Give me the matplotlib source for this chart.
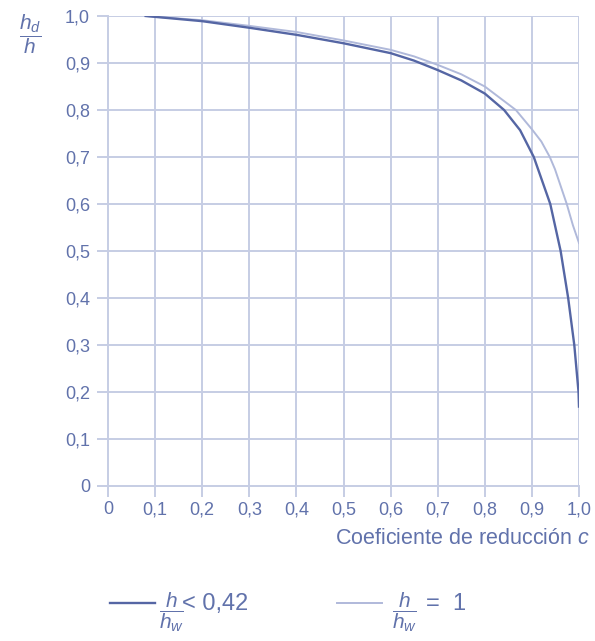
import matplotlib
matplotlib.use("Agg")
import matplotlib.pyplot as plt

plt.rcParams['font.family'] = ['Liberation Sans', 'DejaVu Sans']
plt.rcParams['mathtext.fontset'] = 'custom'
plt.rcParams['mathtext.rm'] = 'Liberation Sans'
plt.rcParams['mathtext.it'] = 'Liberation Sans:italic'

# Data
c_low = [0.08, 0.2, 0.3, 0.4, 0.5, 0.6, 0.65, 0.7, 0.75, 0.8, 0.841, 0.875, 0.904,
         0.939, 0.961, 0.977, 0.99, 0.999, 1.0]
v_low = [1.0, 0.989, 0.975, 0.96, 0.942, 0.921, 0.905, 0.885, 0.863, 0.835, 0.80,
         0.757, 0.70, 0.60, 0.50, 0.40, 0.30, 0.20, 0.169]
c_one = [0.08, 0.2, 0.3, 0.4, 0.5, 0.6, 0.65, 0.7, 0.75, 0.8, 0.866, 0.9, 0.92,
         0.938, 0.949, 0.974, 0.987, 1.0]
v_one = [1.0, 0.991, 0.979, 0.966, 0.948, 0.928, 0.914, 0.896, 0.876, 0.850, 0.80,
         0.759, 0.733, 0.70, 0.674, 0.60, 0.555, 0.517]

xticks = [0, 0.1, 0.2, 0.3, 0.4, 0.5, 0.6, 0.7, 0.8, 0.9, 1.0]
xticklabels = ['0', '0,1', '0,2', '0,3', '0,4', '0,5', '0,6', '0,7', '0,8', '0,9', '1,0']
yticks = [0, 0.1, 0.2, 0.3, 0.4, 0.5, 0.6, 0.7, 0.8, 0.9, 1.0]
yticklabels = ['0', '0,1', '0,2', '0,3', '0,4', '0,5', '0,6', '0,7', '0,8', '0,9', '1,0']

TXT = '#6172ab'
GRID = '#c6cde4'
DARK = '#5566a4'
LIGHT = '#b0b9da'

fig = plt.figure(figsize=(5.95, 6.41), dpi=100)
ax = fig.add_axes([108/595, 1-486/641, 471/595, 470/641])

ax.set_xlim(0, 1.0)
ax.set_ylim(0, 1.0)
for x in xticks[1:]:
    ax.axvline(x, color=GRID, lw=1.4, zorder=1)
for y in yticks[1:]:
    ax.axhline(y, color=GRID, lw=1.4, zorder=1)

ax.plot(c_one, v_one, color=LIGHT, lw=1.4, zorder=3)
ax.plot(c_low, v_low, color=DARK, lw=1.7, zorder=4)

for s in ['top', 'right']:
    ax.spines[s].set_visible(False)
for s in ['left', 'bottom']:
    ax.spines[s].set_color(GRID)
    ax.spines[s].set_linewidth(1.4)

ax.set_xticks(xticks)
ax.set_xticklabels(xticklabels)
ax.set_yticks(yticks)
ax.set_yticklabels(yticklabels)
ax.tick_params(axis='both', colors=GRID, length=8, width=1.4, labelcolor=TXT,
               labelsize=13)
ax.tick_params(axis='x', pad=3)
ax.tick_params(axis='y', pad=5)

fig.text(590/595, 1-538/641, 'Coeficiente de reducción $c$', ha='right', va='center',
         color=TXT, fontsize=15.5)
fig.text(30/595, 1-34/641, r'$\dfrac{h_d}{h}$', ha='center', va='center',
         color=TXT, fontsize=15)

# legend
ly = 1 - 612/641
fig.lines.append(plt.Line2D([110/595, 155/595], [1-603/641]*2, color=DARK, lw=1.7,
                            transform=fig.transFigure))
fig.text(171/595, ly, r'$\dfrac{h}{h_w}$', ha='center', va='center',
         color=TXT, fontsize=15)
fig.text(182/595, 1-604/641, '< 0,42', ha='left', va='center',
         color=TXT, fontsize=17)
fig.lines.append(plt.Line2D([337/595, 382/595], [1-603/641]*2, color=LIGHT, lw=1.4,
                            transform=fig.transFigure))
fig.text(404/595, ly, r'$\dfrac{h}{h_w}$', ha='center', va='center',
         color=TXT, fontsize=15)
fig.text(426/595, 1-604/641, '=  1', ha='left', va='center',
         color=TXT, fontsize=17)

fig.savefig('out.png', dpi=100)
